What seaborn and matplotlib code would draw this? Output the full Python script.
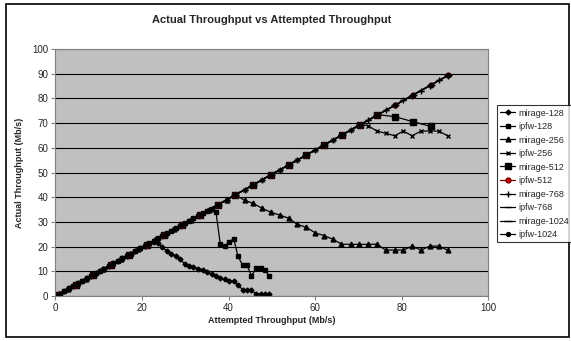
import pandas as pd
import seaborn as sns
import matplotlib.pyplot as plt
from matplotlib.patches import Rectangle

# attempted throughput grids (Mb/s)
x_128 = [1.0, 2.1, 3.1, 4.1, 5.2, 6.2, 7.2, 8.2, 9.3, 10.3, 11.3, 12.4, 13.4, 14.4, 15.5, 16.5,
         17.5, 18.5, 19.6, 20.6, 21.6, 22.7, 23.7, 24.7, 25.8, 26.8, 27.8, 28.8, 29.9, 30.9, 31.9,
         33.0, 34.0, 35.0, 36.1, 37.1, 38.1, 39.1, 40.2, 41.2, 42.2, 43.3, 44.3, 45.3, 46.4, 47.4,
         48.4, 49.4]
x_256 = [0.8, 2.9, 4.9, 7.0, 9.0, 11.0, 13.1, 15.1, 17.2, 19.2, 21.2, 23.3, 25.3, 27.4, 29.4,
         31.4, 33.5, 35.5, 37.6, 39.6, 41.6, 43.7, 45.7, 47.8, 49.8, 51.8, 53.9, 55.9, 58.0, 60.0,
         62.0, 64.1, 66.1, 68.2, 70.2, 72.2, 74.3, 76.3, 78.4, 80.4, 82.4, 84.5, 86.5, 88.6, 90.6]
x_512 = [0.6, 4.7, 8.8, 12.9, 17.0, 21.1, 25.2, 29.3, 33.4, 37.5, 41.6, 45.7, 49.8, 53.9, 58.0,
         62.1, 66.2, 70.3, 74.4, 78.5, 82.6, 86.7, 90.8]

# actual throughput (Mb/s)
mirage_128 = [1.0, 2.1, 3.1, 4.0, 5.1, 6.1, 7.1, 8.1, 9.2, 10.1, 11.1, 12.2, 13.2, 14.2, 15.3,
              16.3, 17.2, 18.2, 19.3, 20.1, 21.0, 21.8, 21.4, 19.8, 18.2, 17.0, 16.2, 14.8, 13.0,
              12.3, 11.8, 11.1, 10.7, 9.8, 8.9, 8.2, 7.4, 6.7, 6.2, 5.9, 4.6, 2.4, 2.4, 2.4, 0.8,
              0.8, 0.8, 0.8]
ipfw_128 = [1.0, 2.1, 3.1, 4.0, 5.1, 6.1, 7.1, 8.1, 9.2, 10.1, 11.1, 12.2, 13.2, 14.2, 15.3,
            16.3, 17.2, 18.2, 19.3, 20.3, 21.3, 22.4, 23.3, 24.3, 25.4, 26.4, 27.4, 28.4, 29.5,
            30.4, 31.4, 32.5, 33.5, 34.5, 35.2, 34.1, 21.0, 20.2, 22.0, 23.2, 16.0, 12.4, 12.4,
            8.2, 11.2, 11.2, 10.5, 8.1]
mirage_256 = [0.8, 2.9, 4.8, 6.9, 8.9, 10.8, 12.9, 14.9, 16.9, 18.9, 20.9, 23.0, 24.9, 27.0,
              29.0, 30.9, 33.0, 35.0, 37.0, 39.0, 40.9, 38.8, 37.5, 35.5, 33.9, 32.8, 31.5, 29.0,
              27.8, 25.6, 24.5, 23.0, 21.0, 20.9, 20.9, 20.9, 21.0, 18.6, 18.6, 18.6, 20.2, 18.6,
              20.2, 20.2, 18.6]
ipfw_256 = [0.8, 2.9, 4.8, 6.9, 8.9, 10.8, 12.9, 14.9, 16.9, 18.9, 20.9, 23.0, 24.9, 27.0,
            29.0, 30.9, 33.0, 35.0, 37.0, 39.0, 41.0, 43.0, 45.0, 47.1, 49.1, 51.0, 53.1, 55.1,
            57.1, 59.1, 61.1, 63.1, 65.1, 67.2, 69.5, 69.0, 66.8, 65.9, 64.9, 66.8, 64.9, 66.8,
            66.8, 66.8, 64.9]
mirage_512 = [0.6, 4.6, 8.7, 12.7, 16.7, 20.8, 24.8, 28.9, 32.9, 36.9, 41.0, 45.0, 49.1, 53.1,
              57.1, 61.2, 65.2, 69.2, 73.5, 72.6, 70.6, 68.7]
ipfw_512 = [0.6, 4.6, 8.7, 12.7, 16.7, 20.8, 24.8, 28.9, 32.9, 36.9, 41.0, 45.0, 49.1, 53.1,
            57.1, 61.2, 65.2, 69.2, 73.3, 77.3, 81.4, 85.4, 89.4]
mirage_768 = [0.8, 2.9, 4.8, 6.9, 8.9, 10.8, 12.9, 14.9, 16.9, 18.9, 20.9, 23.0, 24.9, 27.0,
              29.0, 30.9, 33.0, 35.0, 37.0, 39.0, 41.0, 43.0, 45.0, 47.1, 49.1, 51.0, 53.1, 55.1,
              57.1, 59.1, 61.1, 63.1, 65.1, 67.2, 69.1, 71.1, 73.2, 75.2, 77.2, 79.2, 81.2, 83.2,
              85.2, 87.3, 89.2]
ipfw_768 = mirage_768
mirage_1024 = ipfw_512
ipfw_1024 = ipfw_512

series = [
    ("mirage-128", x_128, mirage_128, "D", 2.5, "black"),
    ("ipfw-128", x_128, ipfw_128, "s", 3.2, "black"),
    ("mirage-256", x_256, mirage_256, "^", 3.5, "black"),
    ("ipfw-256", x_256, ipfw_256, "x", 3.5, "black"),
    ("mirage-512", x_512[:len(mirage_512)], mirage_512, "s", 5.0, "black"),
    ("ipfw-512", x_512, ipfw_512, "o", 3.5, "#800000"),
    ("mirage-768", x_256, mirage_768, "+", 4.5, "black"),
    ("ipfw-768", x_256, ipfw_768, "_", 4.0, "black"),
    ("mirage-1024", x_512, mirage_1024, "_", 6.0, "black"),
    ("ipfw-1024", x_512, ipfw_1024, "o", 2.8, "black"),
]

sns.set_style("white")
plt.rcParams['font.family'] = ['Liberation Sans', 'DejaVu Sans']

fig = plt.figure(figsize=(5.71, 3.41), dpi=100)
ax = fig.add_axes([0.097, 0.132, 0.758, 0.724])
ax.set_facecolor("#C0C0C0")

for label, xs, ys, marker, msize, color in series:
    df = pd.DataFrame({"x": xs, "y": ys})
    mfc = "#CC0000" if label == "ipfw-512" else color
    sns.lineplot(data=df, x="x", y="y", ax=ax, color=color, marker=marker,
                 markersize=msize, markerfacecolor=mfc, markeredgecolor=color,
                 markeredgewidth=1.0, linewidth=0.9, label=label, sort=False)

ax.set_xlim(0, 100)
ax.set_ylim(0, 100)
ax.set_xticks(range(0, 101, 20))
ax.set_yticks(range(0, 101, 10))
ax.yaxis.grid(True, color="black", linewidth=0.8)
ax.xaxis.grid(False)
ax.set_axisbelow(True)
for side in ax.spines.values():
    side.set_color("#808080")
    side.set_linewidth(0.8)
ax.tick_params(axis="both", direction="out", length=3, width=0.8, color="#808080",
               labelsize=7, pad=2, bottom=True, left=True)

ax.set_xlabel("Attempted Throughput (Mb/s)", fontsize=6.5, fontweight="bold", labelpad=2)
ax.set_ylabel("Actual Throughput (Mb/s)", fontsize=6.5, fontweight="bold", labelpad=6)
fig.text(0.475, 0.94, "Actual Throughput vs Attempted Throughput", ha="center", va="center",
         fontsize=8, fontweight="bold")

ax.get_legend().remove()
handles, labels = ax.get_legend_handles_labels()
leg = fig.legend(handles, labels, loc="center left", bbox_to_anchor=(0.870, 0.49),
                 fontsize=6.5, frameon=True, fancybox=False, borderpad=0.35,
                 labelspacing=0.5, handlelength=1.7, handletextpad=0.3,
                 borderaxespad=0)
leg.get_frame().set_edgecolor("black")
leg.get_frame().set_linewidth(0.8)

# outer chart border
fig.patches.append(Rectangle((0.011, 0.012), 0.985, 0.976, transform=fig.transFigure,
                             fill=False, edgecolor="black", linewidth=1.2))

fig.savefig("out.png", dpi=100)
